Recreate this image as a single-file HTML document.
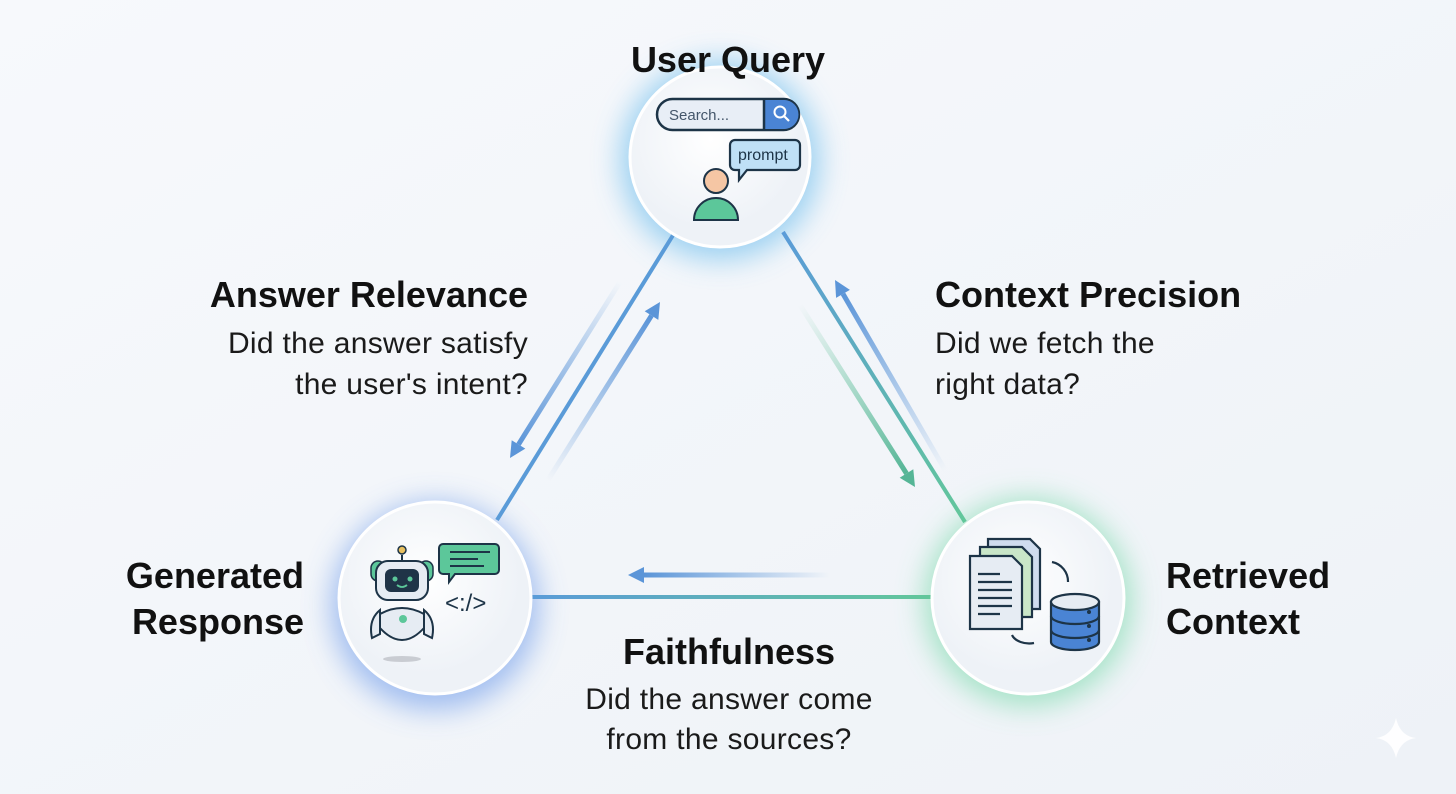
<!DOCTYPE html>
<html><head><meta charset="utf-8"><style>
html,body{margin:0;padding:0;width:1456px;height:794px;overflow:hidden;background:#f4f6fa}
svg{display:block}
text{font-family:"Liberation Sans",sans-serif}
</style></head><body>
<svg width="1456" height="794" viewBox="0 0 1456 794">
<defs>
<linearGradient id="bg" x1="0" y1="0" x2="1" y2="1"><stop offset="0" stop-color="#f7f9fc"/><stop offset="1" stop-color="#eef2f7"/></linearGradient>
<radialGradient id="cf" cx="0.45" cy="0.4"><stop offset="0" stop-color="#ffffff"/><stop offset="1" stop-color="#eef2f7"/></radialGradient>
<filter id="blur" x="-50%" y="-50%" width="200%" height="200%"><feGaussianBlur stdDeviation="14"/></filter>
<linearGradient id="lr" x1="783" y1="232" x2="965" y2="522" gradientUnits="userSpaceOnUse"><stop offset="0" stop-color="#5a9bd8"/><stop offset="1" stop-color="#62c79a"/></linearGradient>
<linearGradient id="lb" x1="532" y1="0" x2="932" y2="0" gradientUnits="userSpaceOnUse"><stop offset="0" stop-color="#5a9bd8"/><stop offset="1" stop-color="#62c79a"/></linearGradient>
<linearGradient id="g1" x1="620" y1="282" x2="518" y2="444" gradientUnits="userSpaceOnUse"><stop offset="0" stop-color="#5b95d8" stop-opacity="0"/><stop offset="1" stop-color="#5b95d8"/></linearGradient>
<linearGradient id="g2" x1="548" y1="480" x2="651" y2="316" gradientUnits="userSpaceOnUse"><stop offset="0" stop-color="#5b95d8" stop-opacity="0"/><stop offset="1" stop-color="#5b95d8"/></linearGradient>
<linearGradient id="g3" x1="945" y1="470" x2="843" y2="294" gradientUnits="userSpaceOnUse"><stop offset="0" stop-color="#5b95d8" stop-opacity="0"/><stop offset="1" stop-color="#5b95d8"/></linearGradient>
<linearGradient id="g4" x1="800" y1="305" x2="906" y2="473" gradientUnits="userSpaceOnUse"><stop offset="0" stop-color="#6cc7a0" stop-opacity="0"/><stop offset="1" stop-color="#55b596"/></linearGradient>
<linearGradient id="g5" x1="830" y1="0" x2="644" y2="0" gradientUnits="userSpaceOnUse"><stop offset="0" stop-color="#5b95d8" stop-opacity="0"/><stop offset="1" stop-color="#5b95d8"/></linearGradient>
</defs>
<rect width="1456" height="794" fill="url(#bg)"/>
<!-- glows -->
<circle cx="720" cy="160" r="100" fill="#8ccaf0" filter="url(#blur)" opacity="0.85"/>
<circle cx="435" cy="606" r="104" fill="#92b3ee" filter="url(#blur)" opacity="0.85"/>
<circle cx="1028" cy="602" r="104" fill="#96e0bd" filter="url(#blur)" opacity="0.85"/>
<!-- main lines -->
<line x1="497" y1="520" x2="675" y2="232" stroke="#5a9bd8" stroke-width="4"/>
<line x1="783" y1="232" x2="965" y2="522" stroke="url(#lr)" stroke-width="4"/>
<line x1="532" y1="597" x2="932" y2="597" stroke="url(#lb)" stroke-width="4"/>
<!-- arrows -->
<line x1="620" y1="282" x2="518.5" y2="444.4" stroke="url(#g1)" stroke-width="5"/>
<polygon points="510,458 525.3,448.6 511.7,440.2" fill="#5b95d8"/>
<line x1="548" y1="480" x2="651.5" y2="315.6" stroke="url(#g2)" stroke-width="5"/>
<polygon points="660,302 658.3,319.9 644.7,311.3" fill="#5b95d8"/>
<line x1="945" y1="470" x2="843" y2="293.9" stroke="url(#g3)" stroke-width="5"/>
<polygon points="835,280 849.9,289.9 836.1,297.9" fill="#5b95d8"/>
<line x1="800" y1="305" x2="906.5" y2="473.5" stroke="url(#g4)" stroke-width="5"/>
<polygon points="915,487 913.3,469.2 899.7,477.8" fill="#55b596"/>
<line x1="830" y1="575" x2="644" y2="575" stroke="url(#g5)" stroke-width="5"/>
<polygon points="628,575 644,567 644,583" fill="#5b95d8"/>
<!-- circles -->
<circle cx="720" cy="157" r="90" fill="url(#cf)" stroke="#ffffff" stroke-width="3"/>
<circle cx="435" cy="598" r="96" fill="url(#cf)" stroke="#ffffff" stroke-width="3"/>
<circle cx="1028" cy="598" r="96" fill="url(#cf)" stroke="#ffffff" stroke-width="3"/>
<!-- user query icon -->
<rect x="657" y="99" width="142" height="31" rx="15.5" fill="#e8eef6" stroke="#1d3447" stroke-width="2.5"/>
<path d="M764,100 h20 a14.5,14.5 0 0 1 0,29 h-20 z" fill="#4a84d4"/>
<path d="M764,99 v31" stroke="#1d3447" stroke-width="2.5"/>
<circle cx="780" cy="112" r="5.5" fill="none" stroke="#fff" stroke-width="2"/><line x1="784" y1="116" x2="789" y2="121" stroke="#fff" stroke-width="2.2"/>
<text x="669" y="120" font-size="15" fill="#44566a">Search...</text>
<path d="M735,140 h60 a5,5 0 0 1 5,5 v20 a5,5 0 0 1 -5,5 h-48 l-8,10 v-10 h-4 a5,5 0 0 1 -5,-5 v-20 a5,5 0 0 1 5,-5z" fill="#bfe0f6" stroke="#1d3447" stroke-width="2.2"/>
<text x="738" y="160" font-size="16" fill="#1d3447">prompt</text>
<circle cx="716" cy="181" r="12" fill="#f5c6a4" stroke="#1d3447" stroke-width="2"/>
<path d="M694,220 a22,22 0 0 1 44,0 z" fill="#5cc79a" stroke="#1d3447" stroke-width="2"/>
<!-- robot icon -->
<line x1="402" y1="555" x2="402" y2="562" stroke="#1d3447" stroke-width="2"/>
<circle cx="402" cy="550" r="4" fill="#e8c060" stroke="#1d3447" stroke-width="1.5"/>
<rect x="371" y="561" width="14" height="20" rx="7" fill="#5cc79a" stroke="#1d3447" stroke-width="1.5"/>
<rect x="419" y="561" width="14" height="20" rx="7" fill="#5cc79a" stroke="#1d3447" stroke-width="1.5"/>
<rect x="376" y="561" width="52" height="39" rx="12" fill="#e6ecf3" stroke="#1d3447" stroke-width="2"/>
<rect x="385" y="569" width="34" height="23" rx="6" fill="#1f3447"/>
<circle cx="395" cy="579" r="2.5" fill="#5cc79a"/><circle cx="410" cy="579" r="2.5" fill="#5cc79a"/>
<path d="M397,585 q5,4 10,0" stroke="#5cc79a" stroke-width="1.8" fill="none"/>
<path d="M380,610 q-12,10 -8,28 l8,-4z M424,610 q12,10 8,28 l-8,-4z" fill="#e6ecf3" stroke="#1d3447" stroke-width="2"/>
<path d="M380,614 q22,-12 44,0 v14 q-22,24 -44,0z" fill="#e6ecf3" stroke="#1d3447" stroke-width="2"/>
<circle cx="403" cy="619" r="4" fill="#5cc79a"/>
<ellipse cx="402" cy="659" rx="19" ry="3" fill="#c9ccd2"/>
<path d="M443,544 h52 a4,4 0 0 1 4,4 v22 a4,4 0 0 1 -4,4 h-40 l-6,8 v-8 h-6 a4,4 0 0 1 -4,-4 v-22 a4,4 0 0 1 4,-4z" fill="#5cc79a" stroke="#1d3447" stroke-width="2"/>
<path d="M450,552 h40 M450,559 h28 M450,566 h34" stroke="#1d3447" stroke-width="2"/>
<text x="445" y="611" font-size="24" fill="#1d3447" font-family="Liberation Mono,monospace">&lt;:/&gt;</text>
<!-- docs icon -->
<g stroke="#1d3447" stroke-width="2.2">
<path d="M988,539 h42 l10,10 v60 h-52z" fill="#cfdcee"/>
<path d="M980,547 h42 l10,10 v60 h-52z" fill="#c9e6c8"/>
<path d="M970,556 h42 l10,10 v63 h-52z" fill="#e6ecf3"/>
<path d="M978,574 h22 M978,582 h34 M978,590 h34 M978,598 h34 M978,606 h34 M978,614 h22"/>
<path d="M1052,562 a20,20 0 0 1 16,20 M1012,635 a18,12 0 0 0 22,8" fill="none"/>
<path d="M1051,602 v40 a24,8 0 0 0 48,0 v-40z" fill="#4a84d4"/>
<ellipse cx="1075" cy="602" rx="24" ry="8" fill="#e6ecf3"/>
<path d="M1051,616 a24,8 0 0 0 48,0 M1051,630 a24,8 0 0 0 48,0" fill="none"/>
</g>
<circle cx="1089" cy="612" r="2" fill="#1d3447"/><circle cx="1089" cy="626" r="2" fill="#1d3447"/><circle cx="1089" cy="640" r="2" fill="#1d3447"/>
<!-- labels -->
<g fill="#111" font-weight="bold" font-size="36">
<text x="728" y="72" text-anchor="middle">User Query</text>
<text x="528" y="307" text-anchor="end">Answer Relevance</text>
<text x="935" y="307">Context Precision</text>
<text x="304" y="588" text-anchor="end">Generated</text>
<text x="304" y="634" text-anchor="end">Response</text>
<text x="1166" y="588">Retrieved</text>
<text x="1166" y="634">Context</text>
<text x="729" y="664" text-anchor="middle">Faithfulness</text>
</g>
<g fill="#1a1a1a" font-size="30" letter-spacing="0.3">
<text x="528" y="353" text-anchor="end">Did the answer satisfy</text>
<text x="528" y="394" text-anchor="end">the user's intent?</text>
<text x="935" y="353">Did we fetch the</text>
<text x="935" y="394">right data?</text>
<text x="729" y="709" text-anchor="middle">Did the answer come</text>
<text x="729" y="749" text-anchor="middle">from the sources?</text>
</g>
<path d="M1396,718 q4,18 20,20 q-16,2 -20,20 q-4,-18 -20,-20 q16,-2 20,-20z" fill="#ffffff" opacity="0.9"/>
</svg>
</body></html>
